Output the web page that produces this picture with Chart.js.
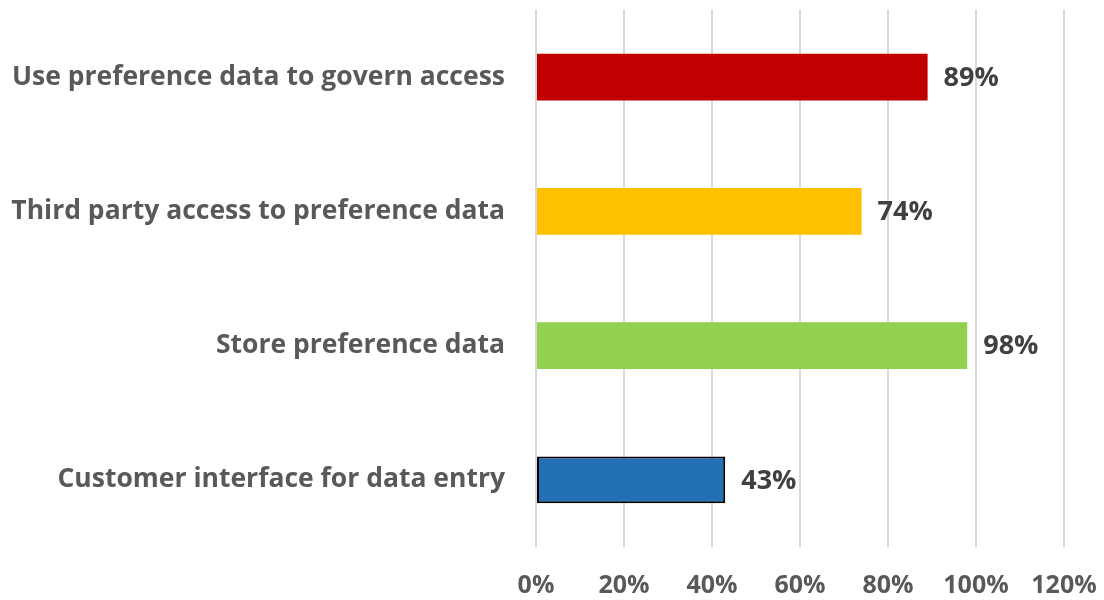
<!DOCTYPE html>
<html>
<head>
<meta charset="utf-8">
<script src="https://cdn.jsdelivr.net/npm/chart.js@4/dist/chart.umd.min.js"></script>
<style>
  html, body { margin: 0; padding: 0; background: #ffffff; }
  #wrap { width: 1104px; height: 600px; position: relative; }
</style>
</head>
<body>
<div id="wrap"><canvas id="c" width="1104" height="600"></canvas></div>
<script>
const categories = [
  'Use preference data to govern access',
  'Third party access to preference data',
  'Store preference data',
  'Customer interface for data entry'
];
const values = [89, 74, 98, 43];
const barColors = ['#C00000', '#FFC000', '#92D050', '#2470B6'];
const borderColors = ['#C00000', '#FFC000', '#92D050', '#000000'];
const borderWidths = [0, 0, 0, 2];
const tickValues = [0, 20, 40, 60, 80, 100, 120];

const FONT = '"Open Sans", Lato, sans-serif';

function zeroPad(scale) {
  scale.paddingTop = 0; scale.paddingBottom = 0;
  scale.paddingLeft = 0; scale.paddingRight = 0;
}

const valueLabels = {
  id: 'valueLabels',
  afterDatasetsDraw(chart) {
    const ctx = chart.ctx;
    const meta = chart.getDatasetMeta(0);
    ctx.save();
    ctx.font = 'bold 27px ' + FONT;
    ctx.fillStyle = '#404040';
    ctx.textAlign = 'left';
    ctx.textBaseline = 'middle';
    meta.data.forEach((bar, i) => {
      ctx.fillText(values[i] + '%', bar.x + 16, bar.y + 1);
    });
    ctx.restore();
  }
};

new Chart(document.getElementById('c'), {
  type: 'bar',
  data: {
    labels: categories,
    datasets: [{
      data: values,
      backgroundColor: barColors,
      borderColor: borderColors,
      borderWidth: borderWidths,
      borderSkipped: false,
      barPercentage: 0.35,
      categoryPercentage: 1.0
    }]
  },
  options: {
    indexAxis: 'y',
    responsive: false,
    animation: false,
    layout: { autoPadding: false, padding: { top: 10, right: 40, bottom: 0, left: 0 } },
    plugins: { legend: { display: false }, tooltip: { enabled: false } },
    scales: {
      x: {
        min: 0, max: 120,
        afterBuildTicks(scale) { scale.ticks = tickValues.map(v => ({ value: v })); },
        afterFit(scale) { scale.height = 53; zeroPad(scale); },
        grid: { color: '#D9D9D9', lineWidth: 2, drawTicks: false },
        border: { display: false },
        ticks: {
          padding: 24,
          color: '#595959',
          font: { family: FONT, size: 25, weight: 'bold' },
          callback: v => v + '%',
          maxRotation: 0, autoSkip: false
        }
      },
      y: {
        afterFit(scale) { scale.width = 536; zeroPad(scale); },
        grid: { display: false, drawTicks: false },
        border: { display: false },
        ticks: {
          padding: 31,
          color: '#595959',
          font: { family: FONT, size: 26.5, weight: 'bold' }
        }
      }
    }
  },
  plugins: [valueLabels]
});
</script>
</body>
</html>
